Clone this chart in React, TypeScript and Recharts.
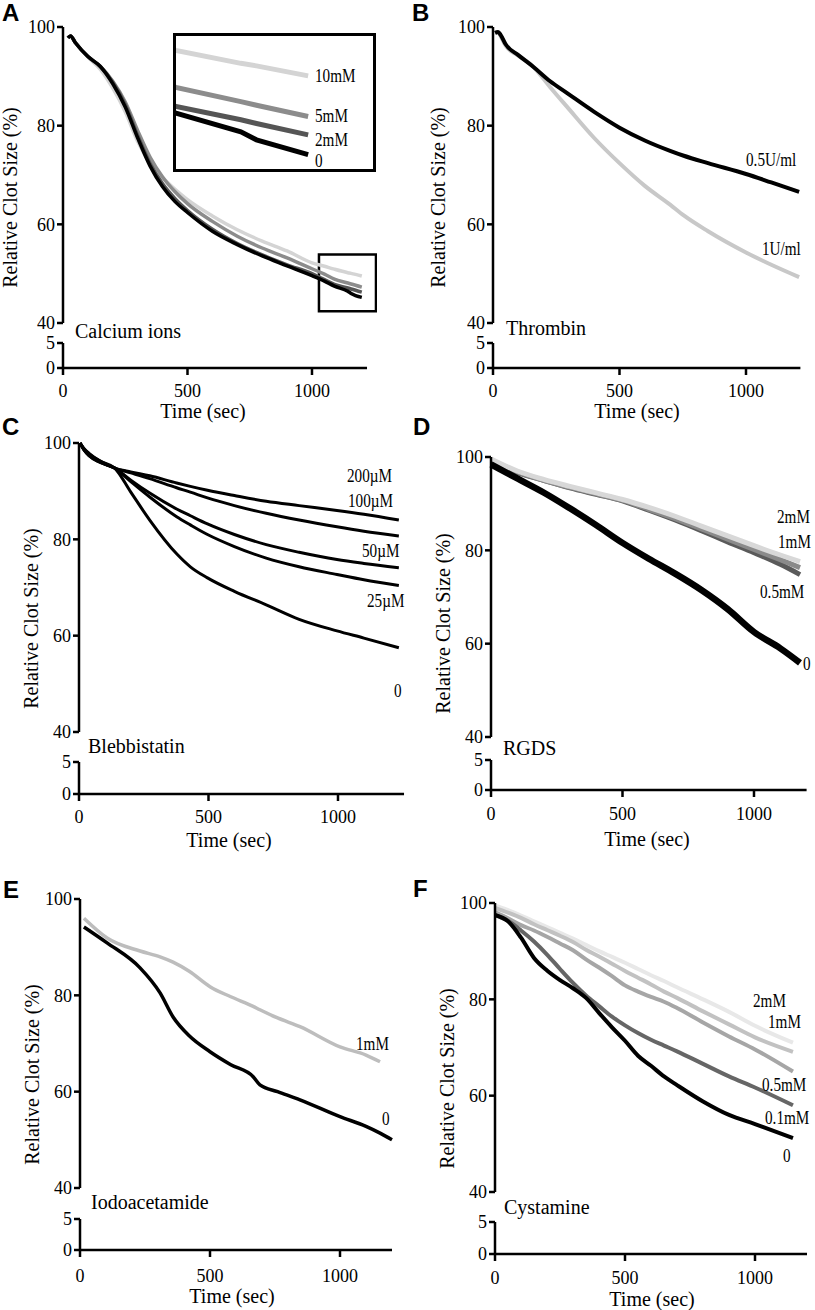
import React from 'react';
import { LineChart, Line, XAxis, YAxis, ReferenceArea } from 'recharts';

const SERIF = '"Liberation Serif", "Times New Roman", serif';
const SANS = '"Liberation Sans", Arial, sans-serif';

// A: calcium ions
const timeA = [20, 30, 50, 100, 150, 200, 250, 300, 350, 400, 450, 500, 600, 700, 800, 900, 1000, 1050, 1090, 1144, 1157, 1200];
const ca10 = [97.8, 98.2, 96.8, 93.9, 91.4, 87.6, 82.8, 76.8, 72.4, 69.5, 67.1, 65.0, 61.7, 58.9, 56.6, 54.6, 52.2, 51.5, 50.91, 50.2, 50.06, 49.51];
const ca5 = [97.8, 98.2, 96.8, 94.0, 92.0, 89.0, 84.8, 79.0, 73.6, 69.6, 66.6, 64.2, 60.6, 57.6, 55.2, 53.2, 51.0, 49.9, 48.88, 48.1, 47.9, 47.28];
const ca2 = [97.8, 98.2, 96.8, 94.0, 92.0, 88.8, 84.3, 78.0, 72.3, 68.2, 65.2, 62.8, 59.0, 56.1, 53.8, 51.8, 50.0, 48.8, 47.83, 47.1, 46.9, 46.27];
const ca0 = [97.8, 98.2, 96.8, 94.0, 92.0, 88.5, 83.8, 77.5, 71.8, 67.6, 64.6, 62.4, 58.6, 55.9, 53.6, 51.6, 49.6, 48.5, 47.47, 46.44, 46.0, 45.19];

// B: thrombin
const timeB = [8, 20, 30, 50, 100, 160, 226, 293, 400, 500, 600, 700, 754, 850, 1000, 1100, 1210];
const thr05 = [98.8, 99.0, 98.4, 96.5, 94.3, 91.9, 89.0, 86.6, 82.8, 79.6, 77.0, 74.9, 73.9, 72.4, 70.2, 68.5, 66.6];
const thr1 = [98.8, 99.0, 98.2, 96.2, 94.2, 91.9, 87.8, 83.8, 77.5, 72.4, 67.8, 64.0, 61.8, 58.6, 54.3, 51.8, 49.3];

// C: blebbistatin
const timeC = [4, 20, 40, 80, 138, 200, 273, 377, 430, 496, 600, 723, 850, 996, 1100, 1235];
const bl200 = [100, 98.7, 97.7, 96.3, 94.8, 94.0, 93.2, 91.7, 91.0, 90.2, 89.1, 87.9, 87.0, 86.0, 85.2, 84.0];
const bl100 = [100, 98.6, 97.5, 96.2, 94.8, 93.8, 92.6, 90.7, 89.8, 88.6, 87.0, 85.4, 84.0, 82.6, 81.7, 80.7];
const bl50 = [100, 98.5, 97.3, 96.0, 94.8, 92.3, 89.6, 86.3, 84.9, 83.2, 81.0, 78.9, 77.3, 75.8, 75.0, 74.1];
const bl25 = [100, 98.5, 97.3, 96.0, 94.8, 92.0, 88.8, 84.7, 83.0, 81.0, 78.5, 76.1, 74.3, 72.7, 71.6, 70.4];
const bl0 = [100, 98.8, 97.8, 96.3, 94.8, 89.8, 84.0, 77.0, 74.3, 72.0, 69.2, 66.4, 63.4, 61.0, 59.5, 57.5];

// D: RGDS
const timeD = [0, 100, 200, 300, 400, 500, 600, 700, 800, 900, 1000, 1100, 1175];
const rg2 = [99.6, 97.0, 95.2, 93.7, 92.3, 90.9, 89.2, 87.3, 85.2, 83.1, 81.0, 79.0, 77.6];
const rg1 = [99.4, 96.8, 95.0, 93.5, 92.1, 90.7, 88.8, 86.8, 84.6, 82.4, 80.2, 78.0, 76.3];
const rg05 = [99.2, 96.7, 95.0, 93.4, 92.0, 90.6, 88.6, 86.5, 84.2, 81.8, 79.5, 77.0, 74.8];
const rg0 = [98.4, 95.4, 92.4, 89.0, 85.4, 81.6, 78.2, 75.0, 71.5, 67.4, 62.5, 59.0, 55.9];

// E: iodoacetamide
const timeE = [15, 104, 231, 308, 358, 420, 500, 580, 666, 692, 760, 846, 1000, 1100, 1154, 1200];
const io1 = [96.0, 91.9, 89.2, 88.0, 86.9, 85.0, 81.8, 79.7, 77.7, 77.0, 75.3, 73.5, 69.3, 67.6, 66.2, null];
const io0 = [94.2, 90.9, 85.7, 80.5, 75.5, 71.6, 68.3, 65.6, 63.1, 61.4, 60.0, 58.3, 54.8, 52.8, 51.4, 50.0];

// F: cystamine
const timeF = [0, 50, 100, 150, 200, 250, 300, 350, 400, 450, 500, 550, 600, 650, 700, 800, 900, 1000, 1146];
const cy2 = [99.5, 98.5, 97.4, 96.2, 95.0, 93.8, 92.6, 91.3, 90.0, 88.8, 87.6, 86.3, 85.0, 83.8, 82.5, 80.0, 77.4, 74.5, 71.0];
const cy1 = [99.0, 98.0, 96.9, 95.6, 94.4, 93.2, 91.9, 90.3, 88.9, 87.4, 85.9, 84.5, 83.1, 81.6, 80.3, 77.5, 74.8, 72.1, 69.1];
const cy05 = [98.1, 96.8, 95.4, 94.3, 93.0, 91.6, 90.2, 88.3, 86.6, 84.8, 82.9, 81.6, 80.5, 79.5, 78.2, 75.2, 72.3, 69.6, 65.0];
const cy01 = [97.5, 96.3, 94.3, 92.0, 89.3, 86.3, 83.4, 80.8, 78.6, 76.4, 74.6, 73.0, 71.6, 70.4, 69.2, 66.6, 64.0, 61.7, 58.0];
const cy0 = [97.5, 96.2, 92.8, 88.6, 86.0, 84.0, 82.3, 80.3, 77.2, 74.2, 71.4, 68.3, 66.2, 64.0, 62.2, 58.8, 56.0, 54.1, 51.2];

const topTicks = [40, 60, 80, 100];
const bottomTicks = [0, 5];
const timeTicks = [0, 500, 1000];

type Series = { key: string; values: (number | null)[]; color: string; width: number };
type Panel = {
  axisX: number; y100: number; y40: number; y5: number; y0: number;
  pps: number; xMax: number; time: number[]; series: Series[]; tickGap: number;
};

const toRows = (time: number[], series: Series[]) =>
  time.map((t, i) => {
    const row: Record<string, number | null> = { t };
    series.forEach((s) => { row[s.key] = s.values[i]; });
    return row;
  });

const panelA: Panel = {
  axisX: 63, y100: 27, y40: 323, y5: 343, y0: 368, pps: 0.249, xMax: 1221, time: timeA, tickGap: 9,
  series: [
    { key: 'c10', values: ca10, color: '#d4d4d4', width: 3.5 },
    { key: 'c5', values: ca5, color: '#8c8c8c', width: 3.5 },
    { key: 'c2', values: ca2, color: '#555555', width: 3.5 },
    { key: 'c0', values: ca0, color: '#000000', width: 3.5 },
  ],
};
const panelB: Panel = {
  axisX: 493, y100: 27, y40: 323, y5: 343, y0: 368, pps: 0.253, xMax: 1215, time: timeB, tickGap: 9,
  series: [
    { key: 't1', values: thr1, color: '#c8c8c8', width: 4 },
    { key: 't05', values: thr05, color: '#000000', width: 4 },
  ],
};
const panelC: Panel = {
  axisX: 79, y100: 443, y40: 732, y5: 762, y0: 794, pps: 0.259, xMax: 1255, time: timeC, tickGap: 9,
  series: [
    { key: 'b200', values: bl200, color: '#000000', width: 3 },
    { key: 'b100', values: bl100, color: '#000000', width: 3 },
    { key: 'b50', values: bl50, color: '#000000', width: 3 },
    { key: 'b25', values: bl25, color: '#000000', width: 3 },
    { key: 'b0', values: bl0, color: '#000000', width: 3 },
  ],
};
const panelD: Panel = {
  axisX: 491, y100: 457, y40: 737, y5: 760, y0: 790, pps: 0.263, xMax: 1200, time: timeD, tickGap: 10,
  series: [
    { key: 'r05', values: rg05, color: '#5a5a5a', width: 5 },
    { key: 'r1', values: rg1, color: '#8a8a8a', width: 5 },
    { key: 'r2', values: rg2, color: '#d8d8d8', width: 5 },
    { key: 'r0', values: rg0, color: '#000000', width: 6.5 },
  ],
};
const panelE: Panel = {
  axisX: 80, y100: 899, y40: 1188, y5: 1219, y0: 1250, pps: 0.26, xMax: 1200, time: timeE, tickGap: 12,
  series: [
    { key: 'i1', values: io1, color: '#bdbdbd', width: 3.5 },
    { key: 'i0', values: io0, color: '#000000', width: 3.5 },
  ],
};
const panelF: Panel = {
  axisX: 495, y100: 903, y40: 1192, y5: 1222, y0: 1254, pps: 0.26, xMax: 1200, time: timeF, tickGap: 10,
  series: [
    { key: 'f2', values: cy2, color: '#e8e8e8', width: 4 },
    { key: 'f1', values: cy1, color: '#c2c2c2', width: 4 },
    { key: 'f05', values: cy05, color: '#a6a6a6', width: 4 },
    { key: 'f01', values: cy01, color: '#666666', width: 4 },
    { key: 'f0', values: cy0, color: '#000000', width: 4 },
  ],
};

const YW = 60;
const PAD = 12;
const XH = 40;
const axisStyle = { stroke: '#000', strokeWidth: 2.5 };
const tickFont = { fill: '#000', fontSize: 18, fontFamily: SERIF };

function BrokenPanel({ p, children }: { p: Panel; children?: React.ReactNode }) {
  const rows = toRows(p.time, p.series);
  const w = YW + p.xMax * p.pps + 10;
  return (
    <>
      <div style={{ position: 'absolute', left: p.axisX - YW, top: p.y100 - PAD }}>
        <LineChart width={w} height={p.y40 - p.y100 + 2 * PAD} data={rows}
          margin={{ top: PAD, right: 10, bottom: PAD, left: 0 }}>
          <XAxis type="number" dataKey="t" domain={[0, p.xMax]} hide />
          <YAxis type="number" domain={[40, 100]} ticks={topTicks} interval={0} width={YW}
            axisLine={axisStyle} tickLine={axisStyle} tickSize={6} tickMargin={2} tick={tickFont} />
          {p.series.map((s) => (
            <Line key={s.key} dataKey={s.key} type="monotone" stroke={s.color} strokeWidth={s.width}
              dot={false} isAnimationActive={false} />
          ))}
          {children}
        </LineChart>
      </div>
      {/* lower segment of the broken y axis (0-5), carries the time axis */}
      <div style={{ position: 'absolute', left: p.axisX - YW, top: p.y5 - PAD }}>
        <LineChart width={w} height={p.y0 - p.y5 + PAD + XH} data={rows}
          margin={{ top: PAD, right: 10, bottom: 0, left: 0 }}>
          <XAxis type="number" dataKey="t" domain={[0, p.xMax]} ticks={timeTicks} interval={0} height={XH}
            axisLine={axisStyle} tickLine={axisStyle} tickSize={7} tickMargin={p.tickGap} tick={tickFont} />
          <YAxis type="number" domain={[0, 5]} ticks={bottomTicks} interval={0} width={YW} allowDataOverflow
            axisLine={axisStyle} tickLine={axisStyle} tickSize={6} tickMargin={2} tick={tickFont} />
          <Line dataKey={p.series[0].key} stroke="none" dot={false} isAnimationActive={false} />
        </LineChart>
      </div>
    </>
  );
}

const letters = [
  { t: 'A', x: 2, y: 21 }, { t: 'B', x: 412, y: 21 },
  { t: 'C', x: 2, y: 435 }, { t: 'D', x: 413, y: 435 },
  { t: 'E', x: 3, y: 898 }, { t: 'F', x: 413, y: 897 },
];
const yLabels = [
  { x: 10, y: 197.5 }, { x: 437.5, y: 197.5 }, { x: 31, y: 618.5 },
  { x: 443, y: 623.5 }, { x: 31.5, y: 1074.5 }, { x: 447, y: 1078.5 },
];
const timeLabels = [
  { x: 203, y: 418 }, { x: 637, y: 418 }, { x: 229, y: 847 },
  { x: 647, y: 846 }, { x: 232, y: 1303 }, { x: 652, y: 1306 },
];
const titles = [
  { t: 'Calcium ions', x: 75, y: 338 }, { t: 'Thrombin', x: 506, y: 335 },
  { t: 'Blebbistatin', x: 88, y: 753 }, { t: 'RGDS', x: 503, y: 755 },
  { t: 'Iodoacetamide', x: 91, y: 1209 }, { t: 'Cystamine', x: 504, y: 1214 },
];
const lineLabels = [
  { t: '10mM', x: 315, y: 82 }, { t: '5mM', x: 315, y: 122 }, { t: '2mM', x: 315, y: 146 }, { t: '0', x: 315, y: 167 },
  { t: '0.5U/ml', x: 746, y: 166 }, { t: '1U/ml', x: 762, y: 255 },
  { t: '200µM', x: 347, y: 482 }, { t: '100µM', x: 348, y: 507 }, { t: '50µM', x: 362, y: 557 },
  { t: '25µM', x: 367, y: 607 }, { t: '0', x: 394, y: 697 },
  { t: '2mM', x: 777, y: 523 }, { t: '1mM', x: 778, y: 548 }, { t: '0.5mM', x: 760, y: 598 }, { t: '0', x: 803, y: 670 },
  { t: '1mM', x: 356, y: 1050 }, { t: '0', x: 382, y: 1125 },
  { t: '2mM', x: 753, y: 1007 }, { t: '1mM', x: 768, y: 1028 }, { t: '0.5mM', x: 762, y: 1091 },
  { t: '0.1mM', x: 765, y: 1124 }, { t: '0', x: 783, y: 1162 },
];

export default function App() {
  const rowsA = toRows(timeA, panelA.series);
  return (
    <div style={{ position: 'absolute', left: 0, top: 0, width: 815, height: 1310, background: '#fff', overflow: 'hidden' }}>
      <BrokenPanel p={panelA}>
        <ReferenceArea x1={1028} x2={1257} y1={42.4} y2={53.9} fill="none" stroke="#000" strokeWidth={2.5} ifOverflow="visible" />
      </BrokenPanel>
      <BrokenPanel p={panelB} />
      <BrokenPanel p={panelC} />
      <BrokenPanel p={panelD} />
      <BrokenPanel p={panelE} />
      <BrokenPanel p={panelF} />

      {/* magnified inset of panel A */}
      <div style={{ position: 'absolute', left: 173, top: 33, width: 203, height: 139, border: '3px solid #000', boxSizing: 'border-box', background: '#fff' }}>
        <LineChart width={197} height={133} data={rowsA} margin={{ top: 0, right: 0, bottom: 0, left: 0 }}>
          <XAxis type="number" dataKey="t" domain={[1090, 1254]} allowDataOverflow hide />
          <YAxis type="number" domain={[44.4, 51.7]} allowDataOverflow hide />
          {panelA.series.map((s) => (
            <Line key={s.key} dataKey={s.key} type="linear" stroke={s.color} strokeWidth={5}
              dot={false} isAnimationActive={false} />
          ))}
        </LineChart>
      </div>

      <svg width={815} height={1310} style={{ position: 'absolute', left: 0, top: 0, pointerEvents: 'none' }}>
        {letters.map((l) => (
          <text key={l.t} x={l.x} y={l.y} fontFamily={SANS} fontWeight="bold" fontSize={24} fill="#000">{l.t}</text>
        ))}
        {yLabels.map((l, i) => (
          <text key={i} transform={`translate(${l.x},${l.y}) rotate(-90)`} textAnchor="middle" dominantBaseline="central"
            fontFamily={SERIF} fontSize={20} fill="#000">Relative Clot Size (%)</text>
        ))}
        {timeLabels.map((l, i) => (
          <text key={i} x={l.x} y={l.y} textAnchor="middle" fontFamily={SERIF} fontSize={20} fill="#000">Time (sec)</text>
        ))}
        {titles.map((l) => (
          <text key={l.t} x={l.x} y={l.y} fontFamily={SERIF} fontSize={20} fill="#000">{l.t}</text>
        ))}
        {lineLabels.map((l, i) => (
          <text key={i} transform={`translate(${l.x},${l.y}) scale(0.8,1)`} fontFamily={SERIF} fontSize={19} fill="#000">{l.t}</text>
        ))}
      </svg>
    </div>
  );
}
